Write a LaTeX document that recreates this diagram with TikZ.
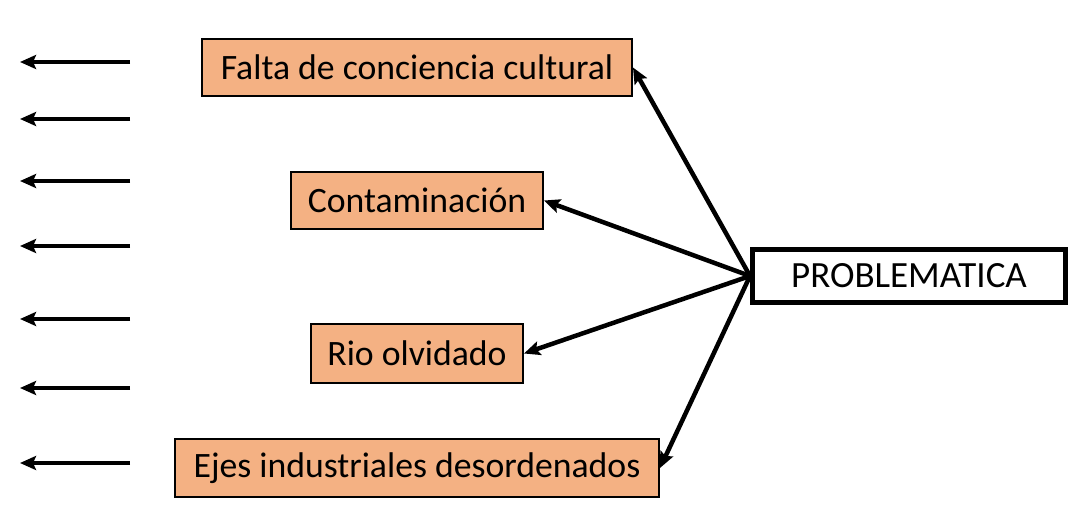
\documentclass[tikz,border=0pt]{standalone}
\usepackage{fontspec}
\setmainfont{Carlito}
\usetikzlibrary{arrows.meta}
\definecolor{peach}{HTML}{F4B183}
\begin{document}
\begin{tikzpicture}[x=1pt,y=-1pt,
  causebox/.style={draw=black,fill=peach,line width=2pt,inner sep=0pt,minimum height=57pt,font=\fontsize{35.7}{40}\selectfont},
  mainbox/.style={draw=black,fill=white,line width=5pt,inner sep=0pt,minimum width=313pt,minimum height=53pt,font=\fontsize{37}{40}\selectfont},
  link/.style={line width=4.5pt,-{Stealth[length=16pt,width=14pt,inset=3pt]}},
  sidearrow/.style={line width=4.5pt,-{Stealth[length=16pt,width=14pt,inset=3pt]}}]
\useasboundingbox (0,0) rectangle (1088,532);
\node[causebox,minimum width=430pt] (f) at (417,67.5) {Falta de conciencia cultural};
\node[causebox,minimum width=252pt] (c) at (417,200.5) {Contaminación};
\node[causebox,minimum width=212pt,minimum height=59pt] (r) at (417,353.5) {Rio olvidado};
\node[causebox,minimum width=484pt,minimum height=58pt] (e) at (417,468) {Ejes industriales desordenados};
\node[mainbox] (p) at (909,276) {PROBLEMATICA};
\coordinate (hub) at (p.west);
\draw[link] (hub) -- (f.east);
\draw[link] (hub) -- (c.east);
\draw[link] (hub) -- (r.east);
\draw[link] (hub) -- (e.east);
\foreach \y [count=\i] in {62,119,181,246,319,388,463}{
  \coordinate (s\i) at (130,\y);
  \coordinate (t\i) at (20,\y);
  \draw[sidearrow] (s\i) -- (t\i);
}
\end{tikzpicture}
\end{document}
